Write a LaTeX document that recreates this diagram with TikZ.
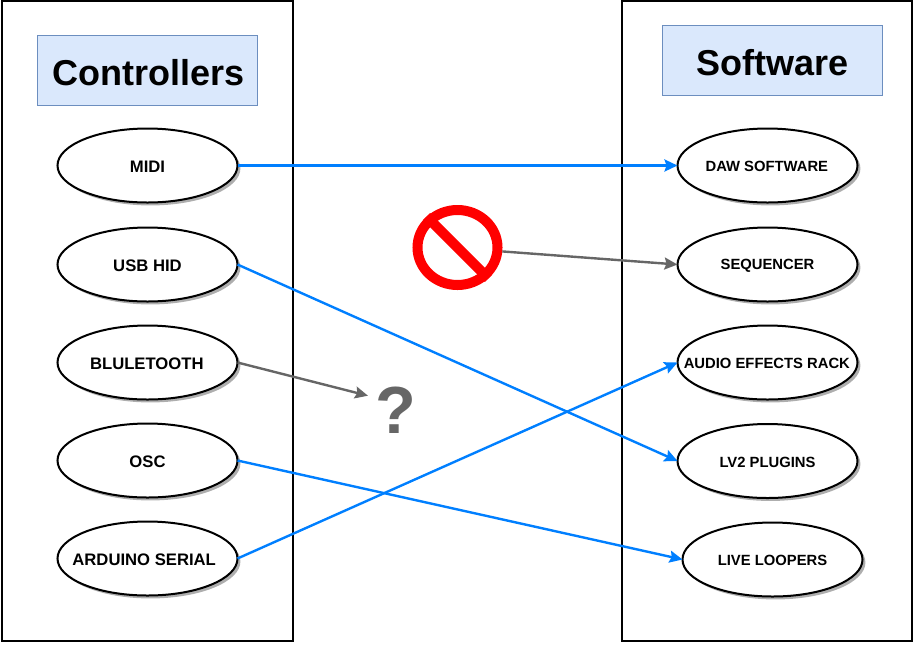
\documentclass[tikz,border=0pt]{standalone}
\usepackage{xcolor}
\usepackage{fontspec}
\setmainfont{Liberation Sans}
\usepackage{tikz}
\usetikzlibrary{shapes.geometric, arrows.meta, shadows}
\definecolor{titlefill}{HTML}{DAE8FC}
\definecolor{titleline}{HTML}{6C8EBF}
\definecolor{linkblue}{HTML}{007FFF}
\definecolor{linkgray}{HTML}{666666}
\newcommand{\lbl}[2][-1pt]{\makebox[0pt]{\raisebox{#1}[\height][\depth]{#2}}}
\tikzset{
    panel/.style = {rectangle, draw = black, line width = 1.5pt, fill = none, inner sep = 0pt, outer sep = 0pt},
    title/.style = {rectangle, draw = titleline, fill = titlefill, line width = 0.75pt, inner sep = 0pt, minimum width = 165pt, minimum height = 52.5pt, font = \fontsize{27}{32}\selectfont\bfseries},
    port/.style = {ellipse, draw = black, fill = white, line width = 1.5pt, inner sep = 0pt, outer sep = 0pt, minimum width = 135pt, minimum height = 55.5pt, font = \fontsize{12.5}{14}\selectfont\bfseries, drop shadow = {shadow xshift = 2.2pt, shadow yshift = -2.2pt, fill = black!45, opacity = 0.7}},
    smallport/.style = {port, font = \fontsize{11.1}{13}\selectfont\bfseries},
    bluelink/.style = {draw = linkblue, line width = 1.8pt, -{Stealth[length = 9.75pt, width = 9pt, inset = 1.5pt]}},
    graylink/.style = {draw = linkgray, line width = 1.8pt, -{Stealth[length = 9.75pt, width = 9pt, inset = 1.5pt]}},
}
\begin{document}
\begin{tikzpicture}[x = 0.75pt, y = -0.75pt]
    \useasboundingbox (0, 0) rectangle (913, 651);
    % panels and titles
    \node (controllers) at (147.5, 321) [panel, minimum width = 218.25pt, minimum height = 480pt] {};
    \node (software) at (767, 321) [panel, minimum width = 217.5pt, minimum height = 480pt] {};
    \node (controllerstitle) at (147.5, 70.5) [title] {\lbl[-1.75pt]{Controllers\hspace{-1.5pt}}};
    \node (softwaretitle) at (772.5, 60.5) [title] {\lbl[-1.75pt]{Software}};
    % left side
    \node (midi) at (147.5, 165.5) [port] {\lbl{MIDI}};
    \node (usbhid) at (147.5, 264.5) [port] {\lbl{USB HID}};
    \node (bluetooth) at (147.5, 362.5) [port] {\lbl{BLULETOOTH\hspace{1pt}}};
    \node (osc) at (147.5, 460.5) [port] {\lbl{OSC}};
    \node (arduino) at (147.5, 558.5) [port] {\lbl{ARDUINO SERIAL\hspace{5pt}}};
    % right side
    \node (daw) at (767.5, 165.5) [smallport] {\lbl{DAW SOFTWARE\hspace{1pt}}};
    \node (sequencer) at (767.5, 264.5) [smallport] {\lbl{SEQUENCER}};
    \node (effects) at (767.5, 362.5) [smallport] {\lbl{AUDIO EFFECTS RACK\hspace{1pt}}};
    \node (lvplugins) at (767.5, 461) [smallport] {\lbl{LV2 PLUGINS}};
    \node (loopers) at (772.5, 559.5) [smallport] {\lbl{LIVE LOOPERS}};
    % no entry sign
    \node (forbidden) at (457.5, 247.5) [ellipse, draw = red, line width = 7.5pt, minimum width = 60pt, minimum height = 56.25pt, inner sep = 0pt, outer sep = 3.75pt] {};
    \draw [red, line width = 7.5pt] (forbidden.135) -- (forbidden.-45);
    \node (unknown) at (396, 410) [text = linkgray, font = \fontsize{50}{50}\selectfont\bfseries, inner sep = 5.75pt, outer sep = 0pt] {?};
    % connectors
    \draw [bluelink] (midi.east) -- (daw.west);
    \draw [bluelink] (usbhid.east) -- (lvplugins.west);
    \draw [bluelink] (osc.east) -- (loopers.west);
    \draw [bluelink] (arduino.east) -- (effects.west);
    \draw [graylink] (bluetooth.east) -- (unknown.153);
    \draw [graylink] (forbidden.-5) -- (sequencer.west);
\end{tikzpicture}
\end{document}
